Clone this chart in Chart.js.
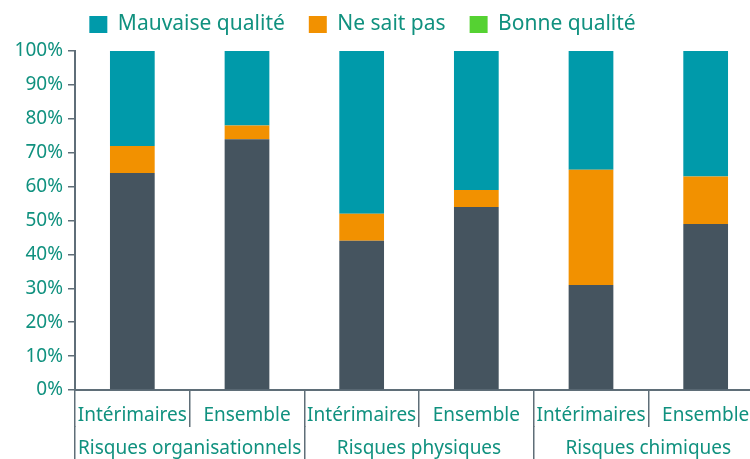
<!DOCTYPE html>
<html>
<head>
<meta charset="utf-8">
<script src="https://cdn.jsdelivr.net/npm/chart.js@4"></script>
<style>
  html, body { margin: 0; padding: 0; background: #fff; overflow: hidden; }
  #wrap { position: relative; width: 766px; height: 459px; }
</style>
</head>
<body>
<div id="wrap"><canvas id="qualityChart"></canvas></div>
<script>
// Categories (two levels)
const categories = ['Intérimaires', 'Ensemble', 'Intérimaires', 'Ensemble', 'Intérimaires', 'Ensemble'];
const groups = ['Risques organisationnels', 'Risques physiques', 'Risques chimiques'];

// Series values (%)
const bonneQualite = [64, 74, 44, 54, 31, 49];
const neSaitPas = [8, 4, 8, 5, 34, 14];
const mauvaiseQualite = [28, 22, 48, 41, 35, 37];

// Tick labels
const yTicks = [0, 10, 20, 30, 40, 50, 60, 70, 80, 90, 100];

const textColor = '#10917f';
const axisColor = '#5f6e78';
const font = { family: 'Noto Sans', size: 19 };

// Legend shows green for "Bonne qualité" while the bars are slate grey
const legendColors = {
  'Mauvaise qualité': '#009aaa',
  'Ne sait pas': '#f29100',
  'Bonne qualité': '#55d232'
};

// keep the legend block short so the plot starts right under it
const legendHeight = {
  id: 'legendHeight',
  afterInit(chart) {
    const lg = chart.legend;
    const fit = lg.fit;
    lg.fit = function() {
      fit.call(this);
      this.height = 61;
    };
  }
};

const ctx = document.getElementById('qualityChart').getContext('2d');

new Chart(ctx, {
  type: 'bar',
  data: {
    labels: categories,
    datasets: [
      { label: 'Bonne qualité', data: bonneQualite, backgroundColor: '#45545f' },
      { label: 'Ne sait pas', data: neSaitPas, backgroundColor: '#f29100' },
      { label: 'Mauvaise qualité', data: mauvaiseQualite, backgroundColor: '#009aaa' }
    ]
  },
  plugins: [legendHeight],
  options: {
    responsive: true,
    maintainAspectRatio: false,
    animation: false,
    datasets: { bar: { barPercentage: 0.39, categoryPercentage: 1 } },
    layout: { padding: { left: -38, right: 3, top: -10, bottom: 0 } },
    plugins: {
      tooltip: { enabled: false },
      legend: {
        position: 'top',
        reverse: true,
        labels: {
          color: textColor,
          font: { family: 'Noto Sans', size: 21 },
          boxWidth: 18,
          boxHeight: 17,
          padding: 24,
          generateLabels: function(chart) {
            const items = Chart.defaults.plugins.legend.labels.generateLabels(chart);
            items.forEach(function(item) {
              item.fillStyle = legendColors[item.text];
              item.strokeStyle = legendColors[item.text];
              item.lineWidth = 0;
            });
            return items;
          }
        }
      }
    },
    scales: {
      x: {
        stacked: true,
        grid: { offset: true, drawOnChartArea: false, tickLength: 37, color: axisColor, lineWidth: 1.5 },
        border: { display: true, color: axisColor, width: 2 },
        ticks: { color: textColor, font: font, padding: -23, maxRotation: 0, autoSkip: false },
        title: { display: true, text: ' ', font: { size: 10 }, padding: { top: 5.1, bottom: 5.1 } }
      },
      x2: {
        type: 'category',
        labels: groups,
        position: 'bottom',
        grid: { offset: true, drawOnChartArea: false, tickLength: 40, color: axisColor, lineWidth: 1.5 },
        border: { display: false },
        ticks: { color: textColor, font: font, padding: -29, maxRotation: 0, autoSkip: false },
        title: { display: true, text: ' ', font: { size: 10 }, padding: { top: 8.1, bottom: 8.1 } }
      },
      y: {
        stacked: true,
        min: 0,
        max: 100,
        afterBuildTicks: function(axis) {
          axis.ticks = yTicks.map(function(v) { return { value: v }; });
        },
        afterFit: function(axis) {
          axis.width = 113;
        },
        grid: { drawOnChartArea: false, tickLength: 7, color: axisColor, lineWidth: 1.5 },
        border: { display: true, color: axisColor, width: 2 },
        ticks: {
          color: textColor,
          font: font,
          padding: 5,
          callback: function(v) { return v + '%'; }
        }
      }
    }
  }
});
</script>
</body>
</html>
